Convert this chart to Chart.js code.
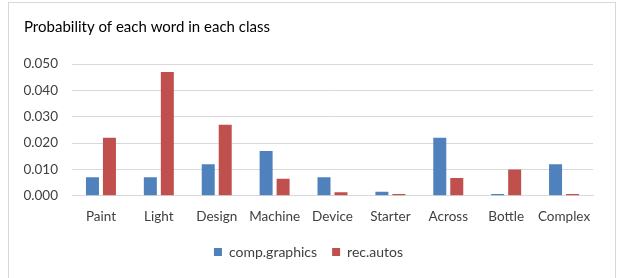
<!DOCTYPE html>
<html>
<head>
<meta charset="utf-8">
<script src="https://cdn.jsdelivr.net/npm/chart.js@4"></script>
<style>
  body { margin: 0; background: #fff; }
  #wrap { position: relative; width: 623px; height: 278px; overflow: hidden; }
  #frame { position: absolute; left: 8px; top: 2px; width: 606px; height: 300px; border: 1px solid #d9d9d9; }
  canvas { position: absolute; left: 0; top: 0; }
</style>
</head>
<body>
<div id="wrap">
  <div id="frame"></div>
  <canvas id="grafico" width="623" height="278"></canvas>
</div>
<script>
// palabras y probabilidades
const palabras = ['Paint', 'Light', 'Design', 'Machine', 'Device', 'Starter', 'Across', 'Bottle', 'Complex'];
const compGraphics = [0.007, 0.007, 0.012, 0.017, 0.007, 0.0015, 0.022, 0.0007, 0.012];
const recAutos = [0.022, 0.047, 0.027, 0.0065, 0.0013, 0.0007, 0.0068, 0.010, 0.0007];
const ticksY = [0, 0.01, 0.02, 0.03, 0.04, 0.05];

const fuente = 'Lato, "Open Sans", sans-serif';
const gris = '#404040';

new Chart(document.getElementById('grafico').getContext('2d'), {
    type: 'bar',
    data: {
        labels: palabras,
        datasets: [
            { label: 'comp.graphics', data: compGraphics, backgroundColor: '#4f81bd' },
            { label: 'rec.autos', data: recAutos, backgroundColor: '#c0504d' }
        ]
    },
    options: {
        responsive: false,
        animation: false,
        datasets: { bar: { categoryPercentage: 0.587, barPercentage: 0.765 } },
        layout: { padding: { left: 24, right: 30, top: 0, bottom: 9 } },
        scales: {
            x: {
                grid: { display: false },
                border: { color: '#d9d9d9' },
                ticks: { color: gris, font: { family: fuente, size: 13.5 }, padding: 5, maxRotation: 0 }
            },
            y: {
                min: 0, max: 0.05,
                afterFit: (s) => { s.width = 48; },
                afterBuildTicks: (s) => { s.ticks = ticksY.map(v => ({ value: v })); },
                grid: { color: '#d9d9d9', drawTicks: false },
                border: { display: false },
                ticks: {
                    color: gris, padding: 14,
                    font: { family: fuente, size: 13.5 },
                    callback: (v) => v.toFixed(3)
                }
            }
        },
        plugins: {
            title: {
                display: true, align: 'start',
                text: 'Probability of each word in each class',
                color: '#000', font: { family: fuente, size: 15, weight: 'normal' },
                padding: { top: 18, bottom: 28 }
            },
            legend: {
                position: 'bottom',
                labels: { color: gris, boxWidth: 8, boxHeight: 8, padding: 15, font: { family: fuente, size: 14 } }
            },
            tooltip: { enabled: false }
        }
    }
});
</script>
</body>
</html>
